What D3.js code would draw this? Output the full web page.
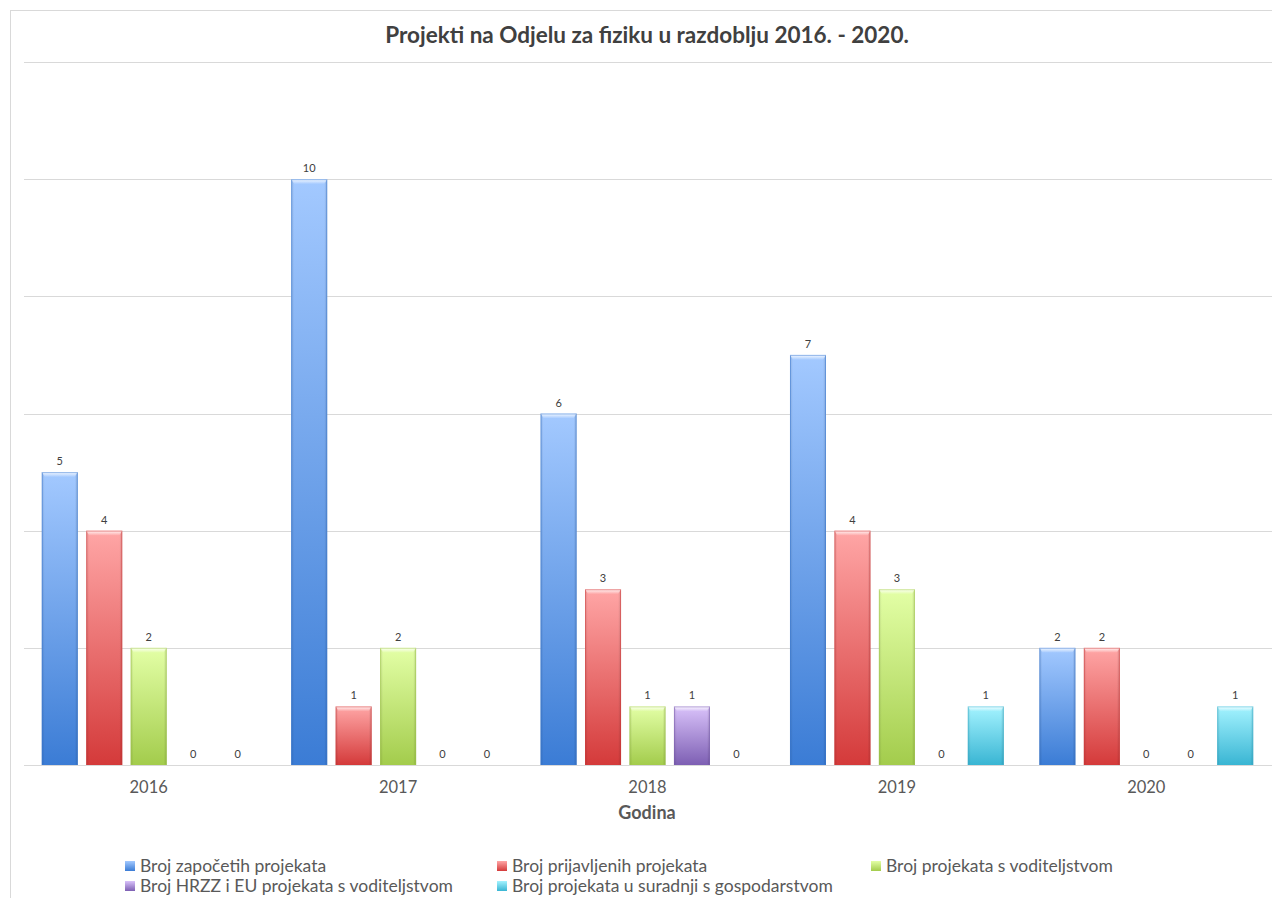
<!DOCTYPE html>
<html>
<head>
<meta charset="utf-8">
<script src="https://cdn.jsdelivr.net/npm/d3@7"></script>
<style>
    body { margin: 0; background: #fff; }
    svg { display: block; font-family: Lato, "Open Sans", sans-serif; }
    .grid line { stroke: #d9d9d9; stroke-width: 1; }
    .value-label { font-size: 11px; fill: #404040; text-anchor: middle; }
    .year-label { font-size: 16.5px; fill: #595959; text-anchor: middle; }
    .legend-text { font-size: 17.5px; fill: #595959; }
</style>
</head>
<body>
<svg id="chart" width="1272" height="898"></svg>
<script>
// years on the x axis
const years = ["2016", "2017", "2018", "2019", "2020"];

// series names (legend order)
const seriesNames = [
    "Broj započetih projekata",
    "Broj prijavljenih projekata",
    "Broj projekata s voditeljstvom",
    "Broj HRZZ i EU projekata s voditeljstvom",
    "Broj projekata u suradnji s gospodarstvom"
];

// values per series, one per year
const zapoceti = [5, 10, 6, 7, 2];
const prijavljeni = [4, 1, 3, 4, 2];
const voditeljstvo = [2, 2, 1, 3, 0];
const hrzzEu = [0, 0, 1, 0, 0];
const gospodarstvo = [0, 0, 0, 1, 1];

const seriesValues = [zapoceti, prijavljeni, voditeljstvo, hrzzEu, gospodarstvo];

// gradient stops per series: [top, bottom]
const seriesColors = [
    ["#a3c9ff", "#3b7cd5"],
    ["#ffa6a6", "#d43a3a"],
    ["#e3ffa6", "#a3cc4c"],
    ["#d9c2fa", "#7d5fb3"],
    ["#a4f3ff", "#39b5d3"]
];

const yTicks = [0, 2, 4, 6, 8, 10, 12];

const svg = d3.select("#chart");
const width = 1272;
const height = 898;

const plot = {left: 24, right: 1271, top: 62, bottom: 765};

// outer frame of the chart area
svg.append("rect")
    .attr("x", 10.5)
    .attr("y", 10.5)
    .attr("width", width + 20)
    .attr("height", height + 20)
    .attr("fill", "none")
    .attr("stroke", "#d9d9d9");

// gradients
const defs = svg.append("defs");
seriesColors.forEach((c, i) => {
    const g = defs.append("linearGradient")
        .attr("id", `grad-${i}`)
        .attr("x1", 0).attr("y1", 0)
        .attr("x2", 0).attr("y2", 1);
    g.append("stop").attr("offset", "0%").attr("stop-color", c[0]);
    g.append("stop").attr("offset", "100%").attr("stop-color", c[1]);

    const cap = defs.append("linearGradient")
        .attr("id", `cap-${i}`)
        .attr("x1", 0).attr("y1", 0)
        .attr("x2", 0).attr("y2", 1);
    cap.append("stop").attr("offset", "0%").attr("stop-color", "#ffffff").attr("stop-opacity", 0.9);
    cap.append("stop").attr("offset", "100%").attr("stop-color", "#ffffff").attr("stop-opacity", 0);
});
// side shading for the bevel look
const side = defs.append("linearGradient")
    .attr("id", "side")
    .attr("x1", 0).attr("y1", 0)
    .attr("x2", 1).attr("y2", 0);
side.append("stop").attr("offset", "0%").attr("stop-color", "#000").attr("stop-opacity", 0.12);
side.append("stop").attr("offset", "8%").attr("stop-color", "#000").attr("stop-opacity", 0);
side.append("stop").attr("offset", "92%").attr("stop-color", "#000").attr("stop-opacity", 0);
side.append("stop").attr("offset", "100%").attr("stop-color", "#000").attr("stop-opacity", 0.15);

// scales
const x0 = d3.scaleBand()
    .domain(years)
    .range([plot.left, plot.right])
    .paddingInner(0)
    .paddingOuter(0);

const x1 = d3.scaleBand()
    .domain(d3.range(seriesNames.length))
    .range([0, x0.bandwidth()])
    .paddingInner(0.19)
    .paddingOuter(0.4);

const y = d3.scaleLinear()
    .domain([0, 12])
    .range([plot.bottom, plot.top]);

// title
svg.append("text")
    .attr("x", 647)
    .attr("y", 43)
    .attr("text-anchor", "middle")
    .style("font-size", "22.5px")
    .style("font-weight", "bold")
    .attr("fill", "#404040")
    .text("Projekti na Odjelu za fiziku u razdoblju 2016. - 2020.");

// gridlines
svg.append("g")
    .attr("class", "grid")
    .selectAll("line")
    .data(yTicks)
    .enter()
    .append("line")
    .attr("x1", plot.left)
    .attr("x2", width)
    .attr("y1", d => Math.round(y(d)) + 0.5)
    .attr("y2", d => Math.round(y(d)) + 0.5);

// bars
const data = [];
years.forEach((yr, yi) => {
    seriesValues.forEach((vals, si) => {
        data.push({year: yr, series: si, value: vals[yi]});
    });
});

const bars = svg.append("g")
    .selectAll("g")
    .data(data)
    .enter()
    .append("g")
    .attr("class", "bar")
    .attr("transform", d => `translate(${x0(d.year) + x1(d.series)},0)`);

const barsNonZero = bars.filter(d => d.value > 0);

barsNonZero.append("rect")
    .attr("x", 0)
    .attr("y", d => y(d.value))
    .attr("width", x1.bandwidth())
    .attr("height", d => y(0) - y(d.value))
    .attr("fill", d => `url(#grad-${d.series})`);

barsNonZero.append("rect")
    .attr("x", 0)
    .attr("y", d => y(d.value))
    .attr("width", x1.bandwidth())
    .attr("height", d => y(0) - y(d.value))
    .attr("fill", "url(#side)");

// top bevel highlight
barsNonZero.append("path")
    .attr("d", d => {
        const w = x1.bandwidth();
        const t = y(d.value);
        return `M0,${t} L${w},${t} L${w - 3},${t + 5} L3,${t + 5} Z`;
    })
    .attr("fill", d => `url(#cap-${d.series})`);

barsNonZero.append("rect")
    .attr("x", 0.5)
    .attr("y", d => y(d.value) + 0.5)
    .attr("width", x1.bandwidth() - 1)
    .attr("height", d => y(0) - y(d.value) - 1)
    .attr("fill", "none")
    .attr("stroke", d => seriesColors[d.series][1])
    .attr("stroke-opacity", 0.5);

bars.append("text")
    .attr("class", "value-label")
    .attr("x", x1.bandwidth() / 2)
    .attr("y", d => y(d.value) - 7)
    .text(d => d.value);

// x axis labels
svg.append("g")
    .selectAll("text")
    .data(years)
    .enter()
    .append("text")
    .attr("class", "year-label")
    .attr("x", d => x0(d) + x0.bandwidth() / 2)
    .attr("y", 793)
    .text(d => d);

svg.append("text")
    .attr("x", 647)
    .attr("y", 819)
    .attr("text-anchor", "middle")
    .style("font-size", "18px")
    .style("font-weight", "bold")
    .attr("fill", "#595959")
    .text("Godina");

// legend
const legendPos = [
    [125, 872], [497, 872], [871, 872],
    [125, 892], [497, 892]
];

const legend = svg.append("g")
    .selectAll("g")
    .data(seriesNames)
    .enter()
    .append("g")
    .attr("transform", (d, i) => `translate(${legendPos[i][0]},${legendPos[i][1]})`);

legend.append("rect")
    .attr("x", 0)
    .attr("y", -11)
    .attr("width", 10)
    .attr("height", 10)
    .attr("fill", (d, i) => `url(#grad-${i})`);

legend.append("text")
    .attr("class", "legend-text")
    .attr("x", 15)
    .attr("y", 0)
    .text(d => d);
</script>
</body>
</html>
